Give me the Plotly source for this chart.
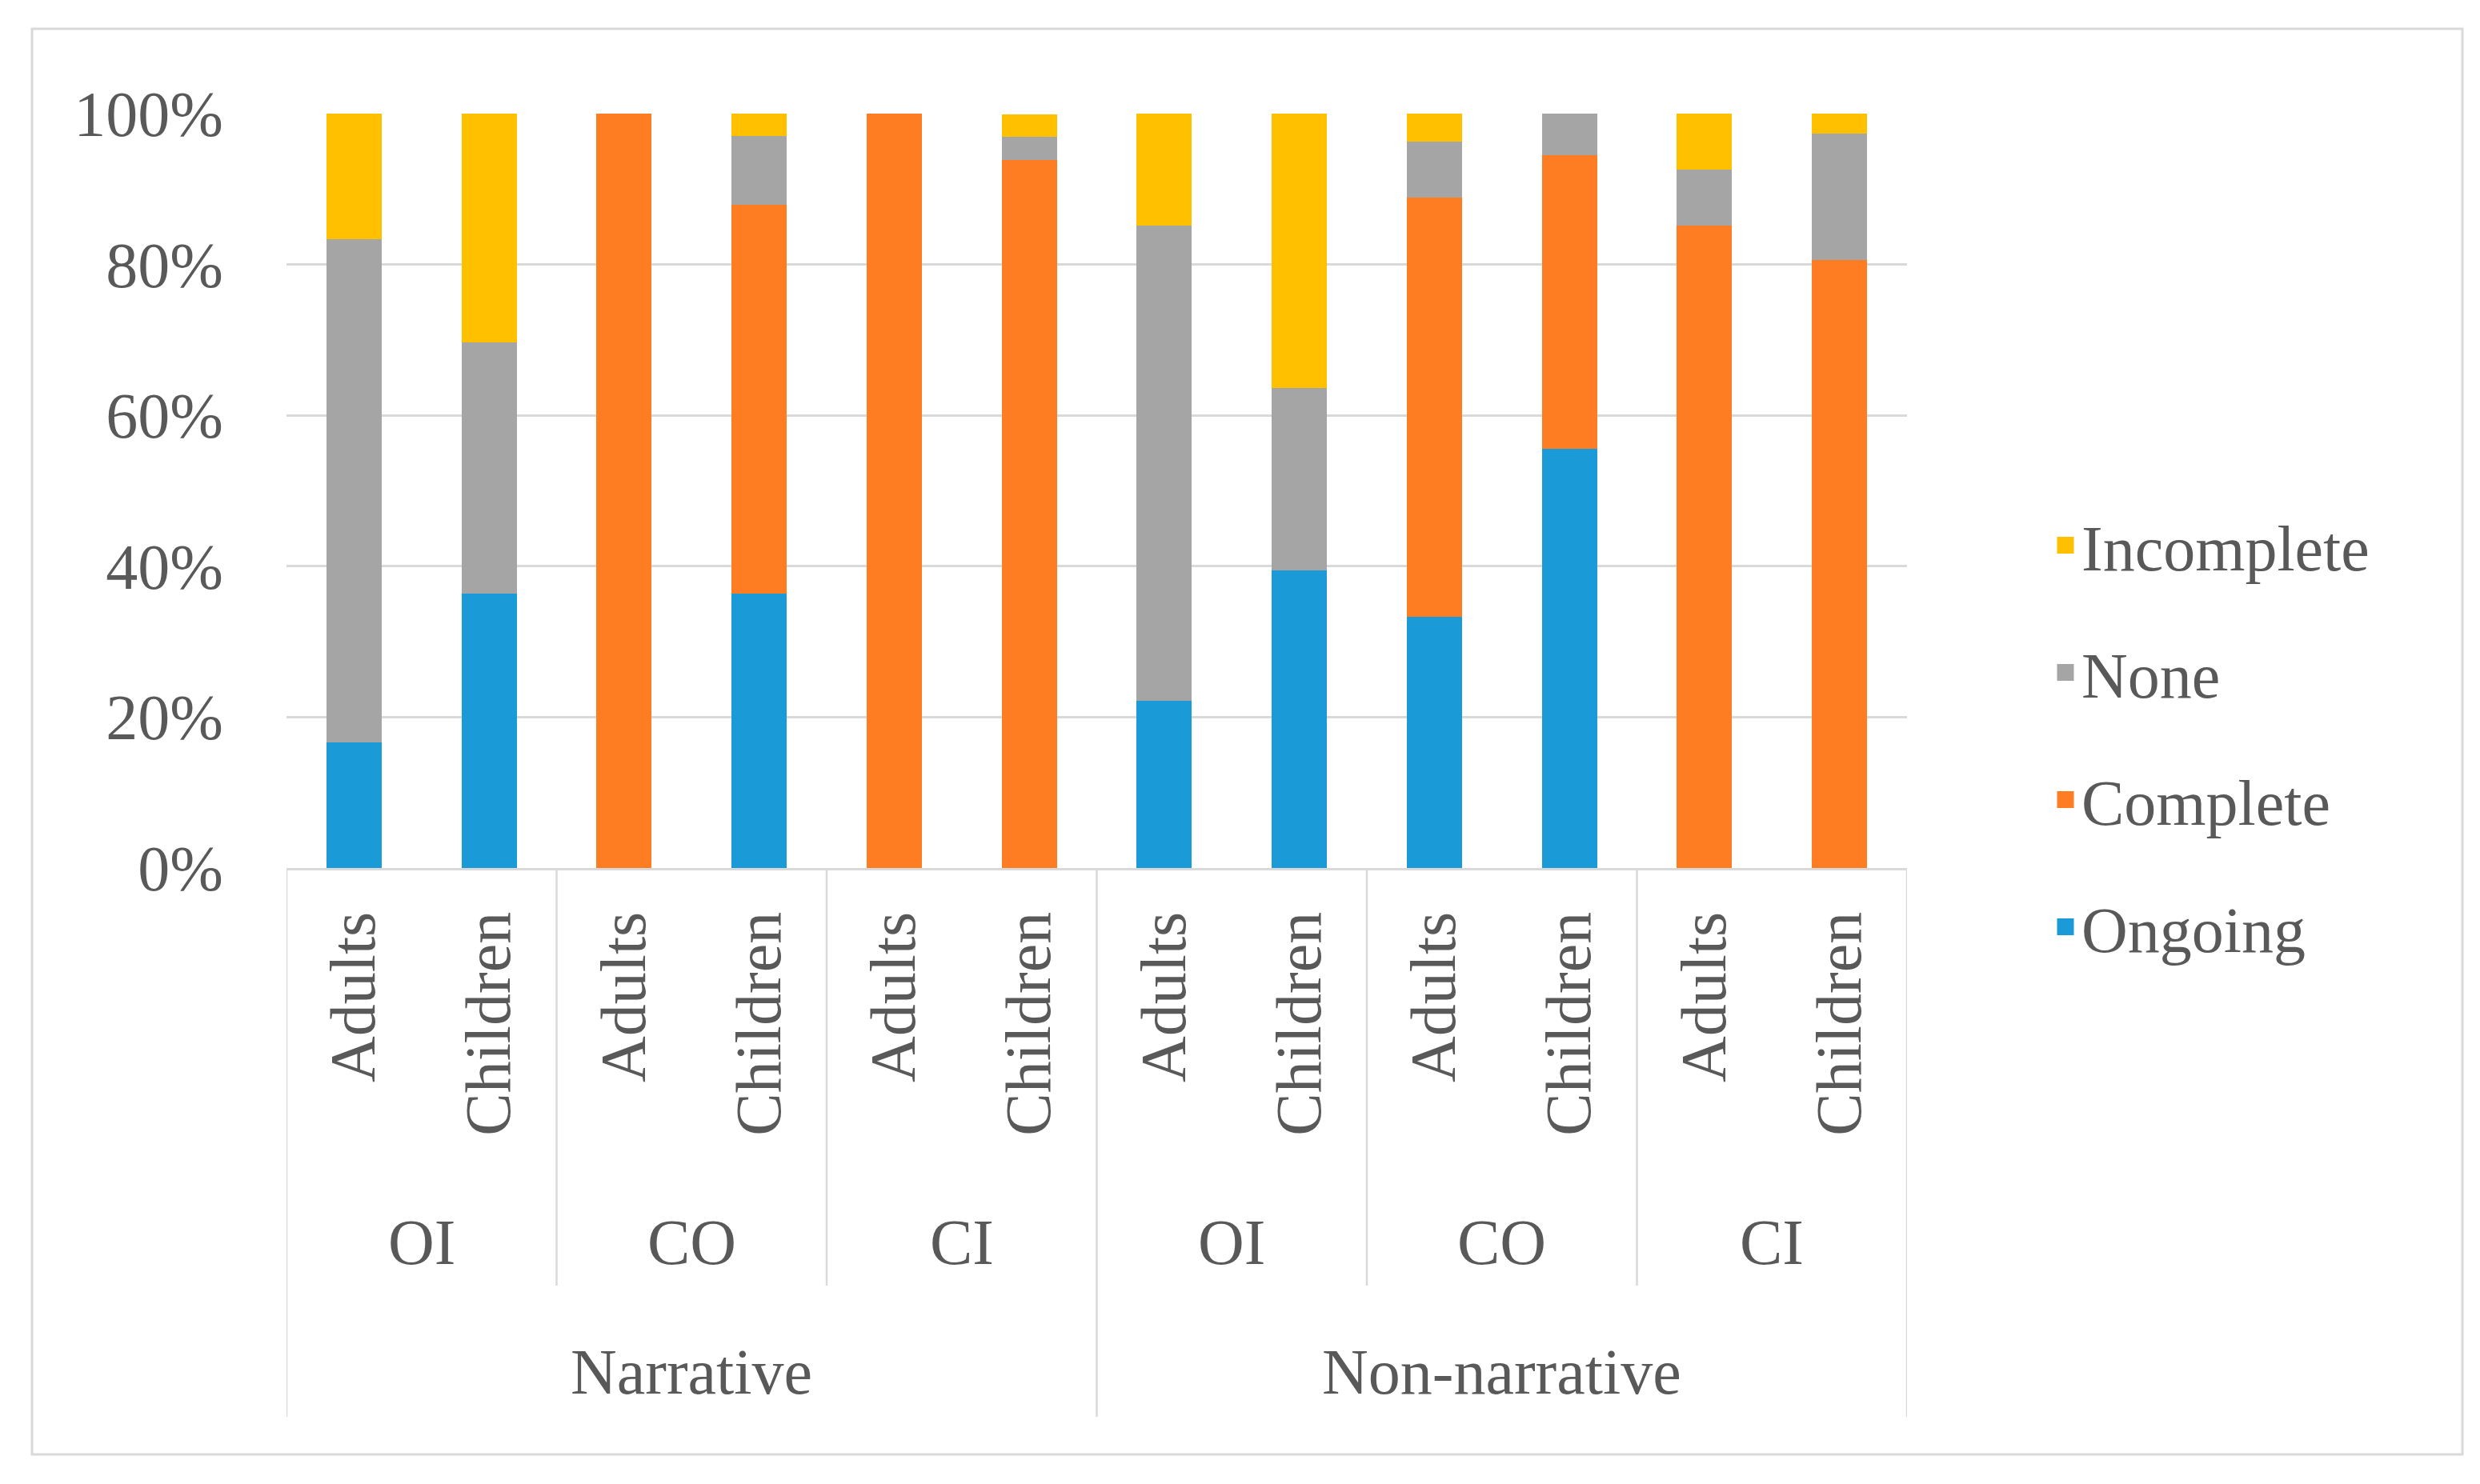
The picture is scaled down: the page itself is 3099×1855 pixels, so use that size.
import plotly.graph_objects as go

# ---- data (percent of responses) ----
text_types = ["Narrative", "Non-narrative"]
conditions = ["OI", "CO", "CI"]
ages = ["Adults", "Children"]

ongoing    = [16.7, 36.4, 0.0, 36.4, 0.0, 0.0, 22.2, 39.4, 33.3, 55.6, 0.0, 0.0]
complete   = [0.0, 0.0, 100.0, 51.5, 100.0, 93.9, 0.0, 0.0, 55.6, 38.9, 85.2, 80.6]
none       = [66.7, 33.3, 0.0, 9.1, 0.0, 3.0, 63.0, 24.2, 7.4, 5.6, 7.4, 16.7]
incomplete = [16.7, 30.3, 0.0, 3.0, 0.0, 3.0, 14.8, 36.4, 3.7, 0.0, 7.4, 2.8]

series_names = ["Ongoing", "Complete", "None", "Incomplete"]
series_colors = ["#1A9BD7", "#FE7D23", "#A5A5A5", "#FFC000"]
y_ticks = [0, 20, 40, 60, 80, 100]

# ---- build categories ----
cats, tick_text = [], []
for t in text_types:
    for c in conditions:
        for a in ages:
            cats.append(f"{t}|{c}|{a}")
            tick_text.append(a)

FONT = "Liberation Serif"
TXT = "#595959"
GRID = "#D9D9D9"

W, H = 3099, 1855
L, R, T, B = 350, 724, 134, 778
plot_h = H - T - B
plot_w = W - L - R

def py(pix):
    return (H - B - pix) / plot_h

def px(pix):
    return (pix - L) / plot_w

fig = go.Figure()
series_vals = [ongoing, complete, none, incomplete]
for name, vals, col in zip(series_names, series_vals, series_colors):
    fig.add_trace(go.Bar(
        x=cats, y=vals, name=name, marker=dict(color=col, line=dict(width=0)),
        showlegend=False,
    ))

# legend entries (square swatches), top-to-bottom: Incomplete, None, Complete, Ongoing
for rank, (name, col) in enumerate(zip(series_names[::-1], series_colors[::-1])):
    fig.add_trace(go.Scatter(
        x=[None], y=[None], mode="markers", name=name, legendgroup=name,
        marker=dict(symbol="square", size=16, color=col, line=dict(color=col, width=5)),
        hoverinfo="skip",
    ))

# group labels
annotations = []
n_age = len(ages)
for ti, t in enumerate(text_types):
    for ci, c in enumerate(conditions):
        center = (ti * len(conditions) + ci) * n_age + (n_age - 1) / 2
        annotations.append(dict(x=center, y=py(1545), xref="x", yref="paper", text=c,
                                showarrow=False, font=dict(family=FONT, size=80, color=TXT),
                                xanchor="center", yanchor="middle"))
    tcenter = ti * len(conditions) * n_age + (len(conditions) * n_age - 1) / 2
    annotations.append(dict(x=tcenter, y=py(1707), xref="x", yref="paper", text=t,
                            showarrow=False, font=dict(family=FONT, size=80, color=TXT),
                            xanchor="center", yanchor="middle"))

# separator lines of multi-level axis
shapes = []
n_total = len(cats)
for k in range(0, n_total + 1, n_age):
    outer = (k % (len(conditions) * n_age) == 0)
    shapes.append(dict(type="line", xref="x", yref="paper", x0=k - 0.5, x1=k - 0.5,
                       y0=0, y1=py(1763) if outer else py(1599),
                       line=dict(color=GRID, width=2.5)))

# chart-area border
shapes.append(dict(type="rect", xref="paper", yref="paper",
                   x0=px(32), x1=px(3069), y0=py(1810), y1=py(28),
                   line=dict(color=GRID, width=3), fillcolor="rgba(0,0,0,0)", layer="below"))

fig.update_layout(
    width=W, height=H, autosize=False,
    margin=dict(l=L, r=R, t=T, b=B, pad=0),
    barmode="stack", bargap=0.59,
    paper_bgcolor="white", plot_bgcolor="white",
    font=dict(family=FONT, size=80, color=TXT),
    showlegend=True,
    legend=dict(x=px(2553), xanchor="left", y=py(912), yanchor="middle",
                traceorder="grouped", tracegroupgap=52,
                font=dict(family=FONT, size=80, color=TXT),
                bgcolor="rgba(0,0,0,0)"),
    annotations=annotations,
    shapes=shapes,
    xaxis=dict(type="category", range=[-0.5, n_total - 0.5],
               tickmode="array", tickvals=cats, ticktext=tick_text,
               tickangle=-90, ticks="", showgrid=False,
               showline=True, linecolor=GRID, linewidth=2.5,
               ticklabelstandoff=20,
               tickfont=dict(family=FONT, size=80, color=TXT)),
    yaxis=dict(range=[0, 100], tickmode="array", tickvals=y_ticks,
               ticktext=[f"{v}%" for v in y_ticks],
               showgrid=True, gridcolor=GRID, gridwidth=2.5,
               zeroline=False, showline=False, ticks="",
               ticklabelstandoff=78,
               tickfont=dict(family=FONT, size=80, color=TXT)),
)

fig.write_html("out.html")
